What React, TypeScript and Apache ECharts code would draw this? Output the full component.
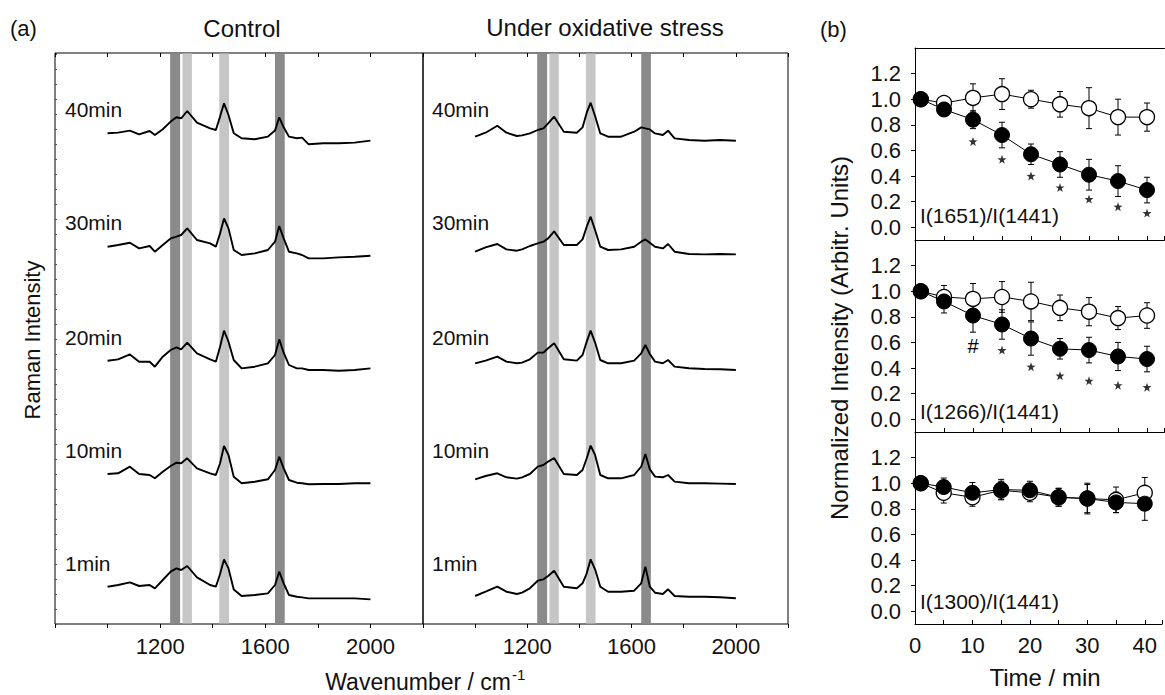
import React, { useEffect, useRef } from "react";
import * as echarts from "echarts";

const FONT = "'Liberation Sans', Arial, Helvetica, sans-serif";

// ---------- Panel (a): Raman spectra ----------
const wn = [1000, 1040, 1085, 1120, 1160, 1180, 1210, 1240, 1262, 1280, 1303, 1340, 1390, 1412, 1428, 1443, 1460, 1480, 1510, 1560, 1610, 1637, 1653, 1670, 1690, 1720, 1740, 1765, 1820, 1880, 1940, 2000];

// Control (relative intensity, a.u.)
const ctrl1 = [0, 1.7, 4.3, 0.7, 1.7, -1.7, 6.7, 15, 18.3, 16.7, 20.7, 9.3, 1.7, 0, 12.7, 27.3, 18.3, -2.7, -9.3, -8.3, -6.7, 1.7, 15, 3.3, -8.3, -10, -10.7, -11.7, -11.7, -11.7, -11.7, -12.7];
const ctrl10 = [0, 0.7, 7.3, 0, -1, -4.3, 2.3, 8, 11.3, 10.7, 15.7, 5.7, 0.7, -1, 10.7, 28, 19, -2.7, -9.3, -7.7, -5.3, 4, 17.3, 5.7, -6, -8.7, -9.3, -10.3, -10, -10, -9.3, -9.3];
const ctrl20 = [0, 1.3, 6.3, -1, -1, -6, 4, 10.7, 13.3, 11.3, 18, 7.3, 1.3, -1, 14, 30, 19, 0.7, -7.7, -6, -2.7, 5.7, 21.3, 8, -4.3, -7.7, -7.7, -9.3, -9.3, -10, -9.3, -7.7];
const ctrl30 = [0, 1.7, 4, -1.7, 0.7, -5, 1.7, 8.3, 10, 11.7, 18.3, 6.7, 3.3, 0, 13.3, 28.3, 18.3, -3.3, -8.3, -6.7, -3.3, 5, 20.7, 8.3, -5, -6.7, -8.3, -11.7, -11.7, -10.7, -10, -9];
const ctrl40 = [0, 0.7, 2.7, -1, 2.3, -1.7, 4, 11.7, 16, 15, 22.3, 10.7, 5, 3.3, 16.7, 30, 18.3, 0, -5, -6, -3.3, 2.7, 16, 6, -3.3, -5, -4.3, -11, -10, -10, -9.3, -7.3];

// Under oxidative stress
const ox1 = [0, 4.3, 9.3, 4.3, 2, 3.3, 7.7, 15.3, 16.7, 20, 25.3, 9.3, 7.7, 12.7, 22.7, 36.7, 26.7, 9.3, 4.3, 4.3, 5.3, 12.7, 29.3, 9.3, 3.3, 2, 6.7, 0, -0.7, -0.7, -1.3, -2.3];
const ox10 = [0, 3.3, 6, 2, 0.7, 2, 5.3, 12.7, 14.3, 17.7, 21.3, 5.3, 4.3, 9.3, 21, 33.7, 24.3, 4.3, 1, 1, 4.3, 12.7, 25.3, 10, 2.7, 2, 4.3, -2.3, -4, -4, -4.3, -4.7];
const ox20 = [0, 2.7, 6.7, 1.7, 0, 0.7, 4, 10.7, 10.7, 15, 20, 4, 2.7, 8.3, 21.7, 32.7, 20.7, 3.3, 0, 0, 2.7, 10, 18.3, 9.3, 1.7, 0, 3.3, -3.3, -5, -5.7, -6, -6.7];
const ox30 = [0, 4.3, 7.7, 2.3, 1, 2.3, 5.7, 8.3, 10, 13.3, 20.3, 6.7, 6.7, 12.3, 25, 35, 21.7, 5, 1.7, 2.3, 5, 10, 12.3, 9, 5, 3.3, 7.7, 0, -2.3, -2.7, -2.3, -2.7];
const ox40 = [0, 4, 11, 4, 0.7, 1.3, 3.3, 6.7, 8.3, 13.3, 20, 5, 4, 9.3, 24, 34, 20.7, 3.3, 0, 0, 5, 9.3, 8.3, 7.3, 3.3, 1.7, 6, -1.7, -3.3, -4, -3.3, -4];

const ctrlOffsets = [37.3, 150, 263.3, 377.3, 490.7];
const oxOffsets = [28, 144.7, 260.7, 372.3, 487.3];
const spectrumLabels = ["1min", "10min", "20min", "30min", "40min"];
const labelY = [563, 450, 337, 222, 109];

const bandStart = [1238, 1285, 1425, 1637];
const bandEnd = [1276, 1321, 1462, 1674];
const bandShade = ["#8a8a8a", "#c6c6c6", "#c6c6c6", "#8a8a8a"];

const wnTickLabels = [1200, 1600, 2000];

// ---------- Panel (b): intensity ratios ----------
const time = [1, 5, 10, 15, 20, 25, 30, 35, 40];

const r1651Ctrl = [1.0, 0.97, 1.01, 1.04, 1.0, 0.96, 0.93, 0.86, 0.86];
const r1651CtrlErr = [0, 0.05, 0.11, 0.12, 0.07, 0.1, 0.16, 0.14, 0.11];
const r1651Ox = [1.0, 0.92, 0.84, 0.72, 0.57, 0.49, 0.41, 0.36, 0.29];
const r1651OxErr = [0, 0.04, 0.07, 0.1, 0.08, 0.1, 0.12, 0.12, 0.1];
const star1651T = [10, 15, 20, 25, 30, 35, 40];
const star1651Y = [0.67, 0.53, 0.4, 0.31, 0.22, 0.16, 0.11];

const r1266Ctrl = [1.0, 0.955, 0.94, 0.955, 0.92, 0.87, 0.84, 0.79, 0.81];
const r1266CtrlErr = [0, 0.09, 0.12, 0.12, 0.15, 0.1, 0.11, 0.09, 0.1];
const r1266Ox = [1.0, 0.92, 0.81, 0.74, 0.63, 0.55, 0.54, 0.49, 0.47];
const r1266OxErr = [0, 0.09, 0.13, 0.115, 0.13, 0.08, 0.1, 0.11, 0.1];
const star1266T = [15, 20, 25, 30, 35, 40];
const star1266Y = [0.54, 0.41, 0.34, 0.3, 0.265, 0.25];
const hash1266 = [[10, 0.57]];

const r1300Ctrl = [1.0, 0.925, 0.89, 0.945, 0.925, 0.89, 0.88, 0.87, 0.925];
const r1300CtrlErr = [0, 0.08, 0.07, 0.07, 0.07, 0.07, 0.12, 0.1, 0.12];
const r1300Ox = [1.0, 0.97, 0.925, 0.95, 0.945, 0.89, 0.88, 0.85, 0.84];
const r1300OxErr = [0, 0.07, 0.08, 0.08, 0.07, 0.07, 0.11, 0.08, 0.13];

const ratioTicks = [0, 0.2, 0.4, 0.6, 0.8, 1.0, 1.2];
const ratioNames = ["I(1651)/I(1441)", "I(1266)/I(1441)", "I(1300)/I(1441)"];

const STAR = "path://M0,-10 L2.35,-3.24 L9.51,-3.09 L3.8,1.24 L5.88,8.09 L0,4 L-5.88,8.09 L-3.8,1.24 L-9.51,-3.09 L-2.35,-3.24 Z";

function buildOption() {
  const series: any[] = [];

  const bandSeries = (xi: number, yi: number) => ({
    type: "custom",
    xAxisIndex: xi,
    yAxisIndex: yi,
    z: 1,
    silent: true,
    data: bandStart.map((s, i) => [s, bandEnd[i], i]),
    renderItem: (params: any, api: any) => {
      const cs = params.coordSys;
      const a = api.coord([api.value(0), 0]);
      const b = api.coord([api.value(1), 0]);
      return {
        type: "rect",
        shape: { x: a[0], y: cs.y + 0.5, width: b[0] - a[0], height: cs.height - 1 },
        style: { fill: bandShade[api.value(2)] },
      };
    },
  });
  series.push(bandSeries(0, 0));
  series.push(bandSeries(2, 1));

  const spec = (vals: number[], off: number, xi: number, yi: number) => ({
    type: "line",
    xAxisIndex: xi,
    yAxisIndex: yi,
    data: wn.map((w, i) => [w, off + vals[i]]),
    symbol: "none",
    silent: true,
    z: 3,
    lineStyle: { color: "#000", width: 1.9 },
  });
  [ctrl1, ctrl10, ctrl20, ctrl30, ctrl40].forEach((v, i) => series.push(spec(v, ctrlOffsets[i], 0, 0)));
  [ox1, ox10, ox20, ox30, ox40].forEach((v, i) => series.push(spec(v, oxOffsets[i], 2, 1)));

  const errSeries = (vals: number[], errs: number[], xi: number, yi: number) => ({
    type: "custom",
    xAxisIndex: xi,
    yAxisIndex: yi,
    z: 3,
    silent: true,
    encode: { x: 0, y: [1, 2] },
    data: time.map((t, i) => [t, vals[i] - errs[i], vals[i] + errs[i]]).filter((d, i) => errs[i] > 0),
    renderItem: (params: any, api: any) => {
      const x = api.value(0);
      const lo = api.coord([x, api.value(1)]);
      const hi = api.coord([x, api.value(2)]);
      const w = 3;
      const st = { stroke: "#000", lineWidth: 1 };
      return {
        type: "group",
        children: [
          { type: "line", shape: { x1: lo[0], y1: lo[1], x2: hi[0], y2: hi[1] }, style: st },
          { type: "line", shape: { x1: lo[0] - w, y1: lo[1], x2: lo[0] + w, y2: lo[1] }, style: st },
          { type: "line", shape: { x1: hi[0] - w, y1: hi[1], x2: hi[0] + w, y2: hi[1] }, style: st },
        ],
      };
    },
  });

  const ratioLine = (vals: number[], filled: boolean, xi: number, yi: number) => ({
    type: "line",
    xAxisIndex: xi,
    yAxisIndex: yi,
    data: time.map((t, i) => [t, vals[i]]),
    symbol: "circle",
    symbolSize: 15,
    showSymbol: true,
    silent: true,
    z: filled ? 5 : 4,
    lineStyle: { color: "#000", width: 1 },
    itemStyle: filled ? { color: "#000", borderColor: "#000", borderWidth: 1 } : { color: "#fff", borderColor: "#000", borderWidth: 1.3 },
  });

  const groups = [
    [r1651Ctrl, r1651CtrlErr, r1651Ox, r1651OxErr],
    [r1266Ctrl, r1266CtrlErr, r1266Ox, r1266OxErr],
    [r1300Ctrl, r1300CtrlErr, r1300Ox, r1300OxErr],
  ];
  groups.forEach((g, k) => {
    const xi = 4 + k;
    const yi = 2 + k;
    series.push(errSeries(g[0], g[1], xi, yi));
    series.push(errSeries(g[2], g[3], xi, yi));
    series.push(ratioLine(g[0], false, xi, yi));
    series.push(ratioLine(g[2], true, xi, yi));
  });

  const starSeries = (ts: number[], ys: number[], xi: number, yi: number) => ({
    type: "scatter",
    xAxisIndex: xi,
    yAxisIndex: yi,
    data: ts.map((t, i) => [t, ys[i]]),
    symbol: STAR,
    symbolSize: 9,
    silent: true,
    z: 6,
    itemStyle: { color: "#000" },
  });
  series.push(starSeries(star1651T, star1651Y, 4, 2));
  series.push(starSeries(star1266T, star1266Y, 5, 3));
  series.push({
    type: "custom",
    xAxisIndex: 5,
    yAxisIndex: 3,
    z: 6,
    silent: true,
    data: hash1266,
    renderItem: (params: any, api: any) => {
      const p = api.coord([api.value(0), api.value(1)]);
      return {
        type: "text",
        x: p[0],
        y: p[1],
        style: { text: "#", font: `20px ${FONT}`, fill: "#000", align: "center", verticalAlign: "middle", textAlign: "center", textVerticalAlign: "middle" },
      };
    },
  });

  const wnAxisBottom = (gi: number) => ({
    type: "value",
    gridIndex: gi,
    min: 800,
    max: 2200,
    interval: 200,
    position: "bottom",
    axisLine: { show: false },
    axisTick: { show: true, inside: false, length: 4, lineStyle: { color: "#000" } },
    axisLabel: {
      show: true,
      fontSize: 22,
      fontFamily: FONT,
      color: "#111",
      margin: 11,
      formatter: (v: number) => (wnTickLabels.indexOf(v) >= 0 ? String(v) : ""),
    },
    splitLine: { show: false },
  });
  const wnAxisTop = (gi: number) => ({
    type: "value",
    gridIndex: gi,
    min: 800,
    max: 2200,
    interval: 200,
    position: "top",
    axisLine: { show: false },
    axisTick: { show: true, inside: true, length: 4, lineStyle: { color: "#000" } },
    axisLabel: { show: false },
    splitLine: { show: false },
  });
  const timeAxis = (gi: number, labels: boolean) => ({
    type: "value",
    gridIndex: gi,
    min: 0,
    max: 43,
    interval: 5,
    position: "bottom",
    axisLine: { show: true, onZero: false, lineStyle: { color: "#000", width: 1 } },
    axisTick: { show: true, inside: true, length: 4, lineStyle: { color: "#000" } },
    axisLabel: {
      show: labels,
      fontSize: 22,
      fontFamily: FONT,
      color: "#111",
      margin: 10,
      formatter: (v: number) => (v % 10 === 0 ? String(v) : ""),
    },
    splitLine: { show: false },
  });

  const xAxis = [
    wnAxisBottom(0),
    wnAxisTop(0),
    wnAxisBottom(1),
    wnAxisTop(1),
    timeAxis(2, false),
    timeAxis(3, false),
    timeAxis(4, true),
    {
      type: "value",
      gridIndex: 2,
      min: 0,
      max: 43,
      position: "top",
      axisLine: { show: true, onZero: false, lineStyle: { color: "#000", width: 1 } },
      axisTick: { show: false },
      axisLabel: { show: false },
      splitLine: { show: false },
    },
  ];

  const specY = (gi: number, ticks: boolean) => ({
    type: "value",
    gridIndex: gi,
    min: 0,
    max: 571,
    interval: 15,
    axisLine: { show: false },
    axisTick: { show: ticks, inside: true, length: 2, lineStyle: { color: "#555" } },
    axisLabel: { show: false },
    splitLine: { show: false },
  });
  const ratioY = (gi: number) => ({
    type: "value",
    gridIndex: gi,
    min: -0.1,
    max: 1.4,
    axisLine: { show: true, onZero: false, lineStyle: { color: "#000", width: 1 } },
    axisTick: { show: true, inside: false, length: 4, customValues: ratioTicks, lineStyle: { color: "#000" } },
    axisLabel: {
      show: true,
      customValues: ratioTicks,
      fontSize: 22,
      fontFamily: FONT,
      color: "#111",
      margin: 14,
      formatter: (v: number) => v.toFixed(1),
    },
    splitLine: { show: false },
  });
  const yAxis = [specY(0, true), specY(1, false), ratioY(2), ratioY(3), ratioY(4)];

  const txt = (text: string, x: number, y: number, size: number, align = "left", rotation = 0) => ({
    type: "text",
    x,
    y,
    rotation,
    silent: true,
    z: 10,
    style: {
      text,
      font: `${size}px ${FONT}`,
      fill: "#111",
      align,
      verticalAlign: "middle",
      textAlign: align,
      textVerticalAlign: "middle",
    },
  });

  const graphic: any[] = [
    txt("(a)", 10, 28, 22),
    txt("Control", 242, 28, 24, "center"),
    txt("Under oxidative stress", 605, 27, 24, "center"),
    txt("(b)", 820, 29, 22),
    txt("Raman Intensity", 32, 340, 22, "center", Math.PI / 2),
    txt("Wavenumber / cm", 511, 682, 23, "right"),
    txt("-1", 512, 674, 15, "left"),
    txt("Normalized Intensity (Arbitr. Units)", 839, 338, 24, "center", Math.PI / 2),
    txt("Time / min", 1045, 677, 24, "center"),
    txt(ratioNames[0], 920, 215, 21),
    txt(ratioNames[1], 920, 411, 21),
    txt(ratioNames[2], 920, 601, 21),
  ];
  spectrumLabels.forEach((s, i) => {
    graphic.push(txt(s, 65, labelY[i], 21));
    graphic.push(txt(s, 432, labelY[i], 21));
  });

  return {
    animation: false,
    backgroundColor: "#fff",
    textStyle: { fontFamily: FONT },
    grid: [
      { left: 55, top: 53, width: 368, height: 571, show: true, borderColor: "#000", borderWidth: 1, backgroundColor: "transparent" },
      { left: 423, top: 53, width: 365, height: 571, show: true, borderColor: "#000", borderWidth: 1, backgroundColor: "transparent" },
      { left: 915, top: 48, width: 249.4, height: 192 },
      { left: 915, top: 240, width: 249.4, height: 192 },
      { left: 915, top: 432, width: 249.4, height: 192 },
    ],
    xAxis,
    yAxis,
    series,
    graphic,
  };
}

export default function App() {
  const ref = useRef<HTMLDivElement>(null);
  useEffect(() => {
    if (!ref.current) return;
    const chart = echarts.init(ref.current, null, { renderer: "svg" });
    chart.setOption(buildOption() as any);
    return () => chart.dispose();
  }, []);
  return (
    <div
      ref={ref}
      style={{ position: "absolute", left: 0, top: 0, width: 1165, height: 695, background: "#fff" }}
    />
  );
}
